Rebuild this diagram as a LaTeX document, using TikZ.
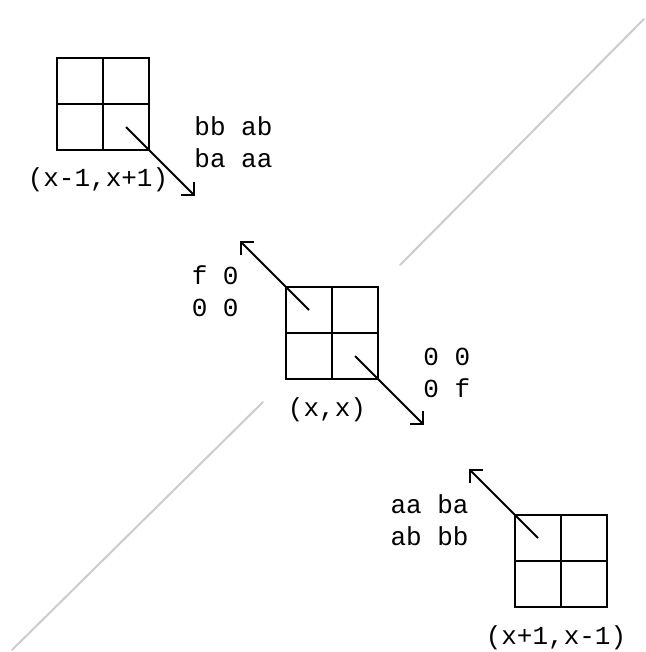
\documentclass[tikz,border=0pt]{standalone}
\usepackage{fontspec}
\newfontfamily\codefont{Liberation Mono}
\usetikzlibrary{arrows.meta, positioning, calc}

\begin{document}
\begin{tikzpicture}[
			x=0.5pt, y=-0.5pt,
			cellgrid/.style={
				rectangle,
				draw,
				minimum size=46pt,
				inner sep=0pt,
				outer sep=0pt,
				line width=1.1pt
			},
			divider/.style={
				line width=1.1pt
			},
			arrow/.style={
				-{Straight Barb[angle=90:6.5pt]},
				line width=1pt
			},
			diag/.style={
				gray!40,
				line width=1pt,
				line cap=round
			},
			lbl/.style={
				font=\codefont\fontsize{13}{16}\selectfont,
				inner sep=0pt
			},
			mat/.style={
				lbl,
				align=left
			}
			]
			
			\useasboundingbox (0,0) rectangle (645,652);
			
			% Diagonal guide lines
			\coordinate (diagA1) at (400,265);
			\coordinate (diagA2) at (644,19);
			\coordinate (diagB1) at (263,402);
			\coordinate (diagB2) at (12,650);
			\draw[diag] (diagA1) -- (diagA2);
			\draw[diag] (diagB1) -- (diagB2);
			
			% Grid A: (x-1,x+1)
			\node[cellgrid] (gA) at (103,104) {};
			\draw[divider] (gA.north) -- (gA.south) (gA.west) -- (gA.east);
			\node[lbl, anchor=base] (gA-lbl) at ($(gA.south)+(-5,37)$) {(x-1,x+1)};
			\node[mat, anchor=base west] (mA) at ($(gA.north east)+(45,110)$) {bb ab\\ba aa};
			\coordinate (gA-tip) at ($(gA.south east)+(46,46)$);
			\draw[arrow] ($(gA.center)!0.5!(gA.south east)$) -- (gA-tip);
			
			% Grid B: (x,x)
			\node[cellgrid] (gB) at (332,333) {};
			\draw[divider] (gB.north) -- (gB.south) (gB.west) -- (gB.east);
			\node[lbl, anchor=base] (gB-lbl) at ($(gB.south)+(-5,37)$) {(x,x)};
			\node[mat, anchor=base east] (mBl) at ($(gB.north west)+(-47,29)$) {f 0\\0 0};
			\node[mat, anchor=base west] (mBr) at ($(gB.north east)+(45,110)$) {0 0\\0 f};
			\coordinate (gB-tipl) at ($(gB.north west)+(-46,-46)$);
			\coordinate (gB-tipr) at ($(gB.south east)+(46,46)$);
			\draw[arrow] ($(gB.center)!0.5!(gB.north west)$) -- (gB-tipl);
			\draw[arrow] ($(gB.center)!0.5!(gB.south east)$) -- (gB-tipr);
			
			% Grid C: (x+1,x-1)
			\node[cellgrid] (gC) at (561,561) {};
			\draw[divider] (gC.north) -- (gC.south) (gC.west) -- (gC.east);
			\node[lbl, anchor=base] (gC-lbl) at ($(gC.south)+(-5,37)$) {(x+1,x-1)};
			\node[mat, anchor=base east] (mC) at ($(gC.north west)+(-46,30)$) {aa ba\\ab bb};
			\coordinate (gC-tip) at ($(gC.north west)+(-46,-46)$);
			\draw[arrow] ($(gC.center)!0.5!(gC.north west)$) -- (gC-tip);
			
		\end{tikzpicture}
\end{document}
